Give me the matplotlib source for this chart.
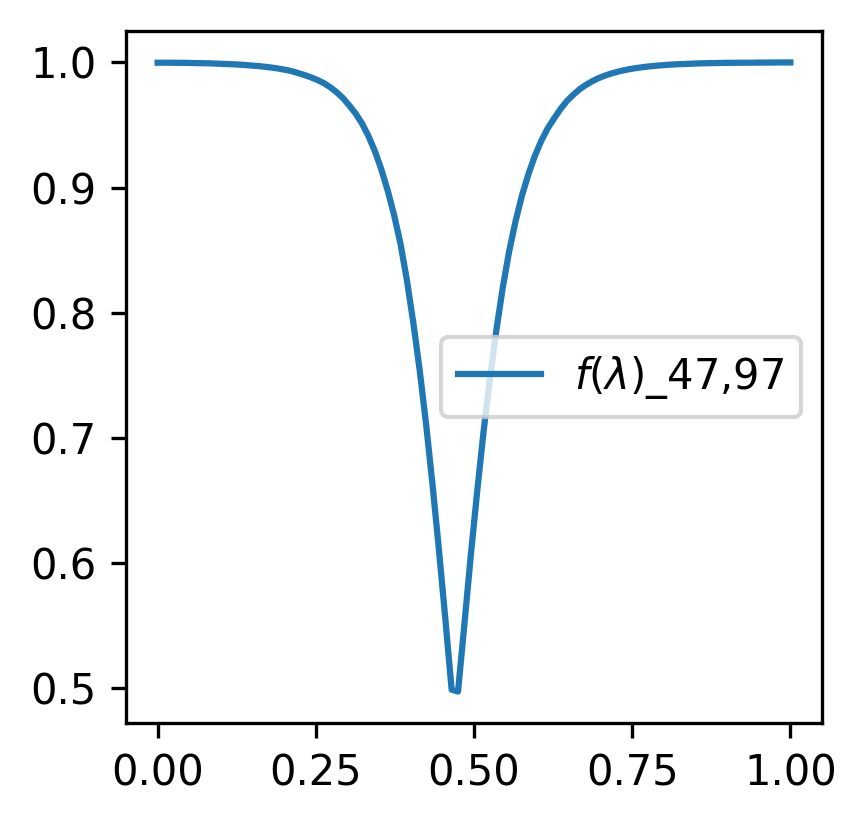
import numpy as np
import matplotlib
matplotlib.use("Agg")
import matplotlib.pyplot as plt

# lambda samples (100 evenly spaced points on [0, 1])
lam = np.linspace(0, 1, 100)

# f(lambda) values
f_vals = [
    0.9998, 0.9998, 0.9998, 0.9997, 0.9997, 0.9996, 0.9995, 0.9994, 0.9993, 0.9991,
    0.9989, 0.9987, 0.9985, 0.9982, 0.9978, 0.9974, 0.9970, 0.9964, 0.9958, 0.9950,
    0.9941, 0.9930, 0.9915, 0.9899, 0.9881, 0.9860, 0.9835, 0.9802, 0.9762, 0.9715,
    0.9655, 0.9590, 0.9510, 0.9410, 0.9290, 0.9145, 0.8975, 0.8780, 0.8550, 0.8260,
    0.7920, 0.7540, 0.7110, 0.6630, 0.6110, 0.5560, 0.4985, 0.4970, 0.5510, 0.6060,
    0.6570, 0.7050, 0.7480, 0.7860, 0.8200, 0.8490, 0.8730, 0.8935, 0.9105, 0.9250,
    0.9370, 0.9470, 0.9550, 0.9625, 0.9690, 0.9740, 0.9785, 0.9820, 0.9850, 0.9875,
    0.9895, 0.9912, 0.9926, 0.9938, 0.9948, 0.9956, 0.9963, 0.9969, 0.9974, 0.9978,
    0.9982, 0.9985, 0.9987, 0.9989, 0.9991, 0.9993, 0.9994, 0.9995, 0.9996, 0.9997,
    0.9997, 0.9998, 0.9998, 0.9998, 0.9999, 0.9999, 0.9999, 1.0000, 1.0000, 1.0000,
]

series_label = r"$f(\lambda)$_47,97"

fig = plt.figure(figsize=(867 / 300, 824 / 300), dpi=300)
ax = fig.add_axes([126 / 867, (824 - 723) / 824, 696 / 867, 692 / 824])
ax.plot(lam, f_vals, color="#1f77b4", linewidth=1.5, label=series_label)
ax.set_xticks([0.0, 0.25, 0.5, 0.75, 1.0])
ax.set_yticks([0.5, 0.6, 0.7, 0.8, 0.9, 1.0])
ax.legend(loc="center right")
fig.savefig("out.png", dpi=300)
